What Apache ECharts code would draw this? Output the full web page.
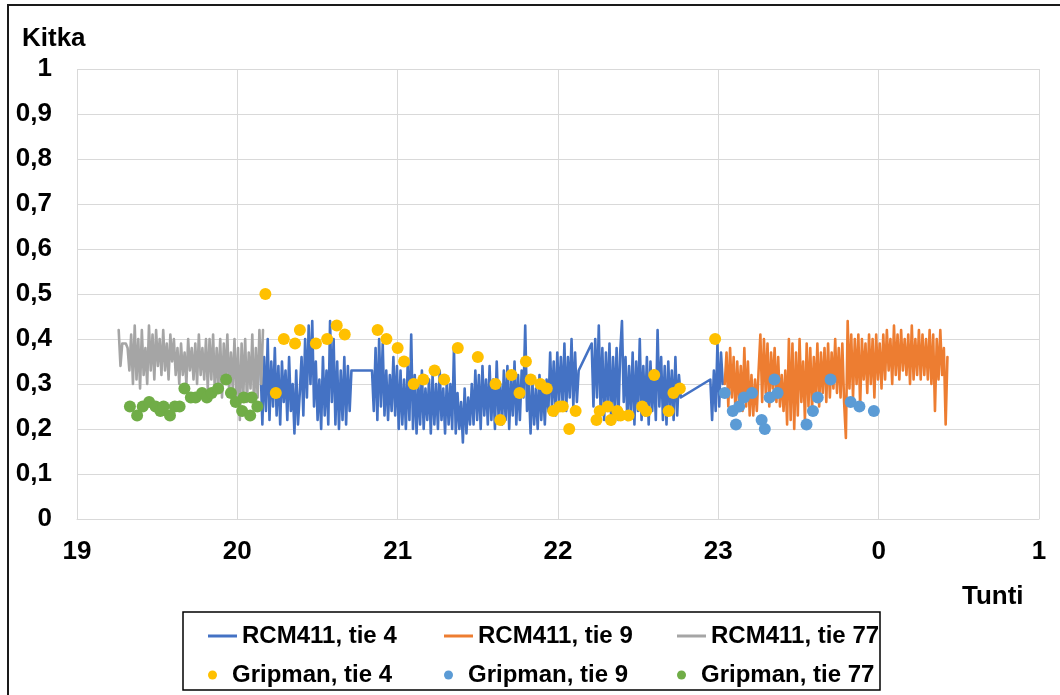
<!DOCTYPE html>
<html>
<head>
<meta charset="utf-8">
<script src="https://cdn.jsdelivr.net/npm/echarts@6/dist/echarts.min.js"></script>
<style>
  html, body { margin: 0; padding: 0; background: #fff; }
  #chart { width: 1060px; height: 695px; }
</style>
</head>
<body>
<div id="chart"></div>
<script>
// RCM411 loggers record one friction value every 40 s (times in hours of day, past midnight = 24+)
const LOG_STEP = 1 / 90;

// RCM411, tie 77
const tie77Start = 19.26;
const tie77Values = [
  0.42, 0.34, 0.39, 0.39, 0.39, 0.38,
  0.33, 0.41, 0.30, 0.43, 0.31, 0.40, 0.29, 0.42, 0.32, 0.38, 0.30, 0.43, 0.33,
  0.41, 0.31, 0.42, 0.34, 0.40, 0.32, 0.42, 0.33, 0.39, 0.31, 0.41, 0.35, 0.40, 0.32, 0.38,
  0.30, 0.39, 0.32, 0.37, 0.30, 0.40, 0.33, 0.38, 0.31, 0.39, 0.30, 0.41, 0.32, 0.38, 0.31, 0.40,
  0.29, 0.40, 0.31, 0.41, 0.28, 0.38, 0.30, 0.40, 0.27, 0.39, 0.31, 0.41, 0.28, 0.37, 0.29, 0.40, 0.27, 0.38,
  0.22, 0.39, 0.28, 0.40, 0.26, 0.37, 0.29, 0.41, 0.25, 0.38, 0.27, 0.42, 0.30, 0.42
];

// RCM411, tie 4 (four recording runs)
const tie4Run1Start = 20.145;
const tie4Run1 = [
  0.34, 0.21, 0.36, 0.24, 0.40, 0.22, 0.35, 0.25, 0.38, 0.23, 0.34, 0.21, 0.35, 0.26, 0.33, 0.22, 0.36, 0.24,
  0.30, 0.19, 0.33, 0.21, 0.28,
  0.36, 0.23, 0.40, 0.27, 0.43, 0.30, 0.44, 0.25,
  0.35, 0.22, 0.31, 0.20, 0.36, 0.23, 0.33, 0.21,
  0.44, 0.26, 0.40,
  0.21, 0.35, 0.20, 0.33, 0.22, 0.36, 0.21, 0.34, 0.24, 0.33
];
const tie4Run2Start = 20.84;
const tie4Run2 = [
  0.33, 0.24, 0.38, 0.22, 0.40, 0.25, 0.39, 0.23,
  0.33, 0.22, 0.32, 0.24, 0.36, 0.23,
  0.34, 0.20, 0.33, 0.21, 0.31, 0.20, 0.34, 0.22,
  0.41,
  0.20, 0.32, 0.19, 0.30, 0.21, 0.33, 0.20, 0.29, 0.22, 0.31, 0.19, 0.32, 0.21, 0.30, 0.20, 0.33, 0.22, 0.29, 0.19, 0.31, 0.21, 0.30, 0.20,
  0.38,
  0.19, 0.28, 0.20, 0.26, 0.17, 0.29, 0.19, 0.27, 0.21, 0.30,
  0.21, 0.33, 0.22, 0.32, 0.20, 0.34, 0.23, 0.31,
  0.21, 0.34, 0.22, 0.31, 0.20, 0.35, 0.23, 0.30, 0.21, 0.33, 0.22, 0.34, 0.20, 0.31, 0.23, 0.35, 0.21, 0.32, 0.22, 0.33,
  0.27, 0.43, 0.24,
  0.30, 0.19, 0.31, 0.21, 0.29, 0.20, 0.32, 0.22, 0.30, 0.21, 0.31,
  0.24, 0.37, 0.25, 0.35, 0.23, 0.37, 0.26, 0.36,
  0.25, 0.39, 0.24, 0.36, 0.27, 0.40, 0.25, 0.37, 0.26, 0.33
];
const tie4Run3Start = 22.21;
const tie4Run3 = [
  0.39, 0.25, 0.40, 0.27, 0.43, 0.24,
  0.38, 0.22, 0.37, 0.25, 0.39, 0.21, 0.36, 0.24, 0.38, 0.22, 0.37,
  0.44, 0.26,
  0.36, 0.22, 0.34, 0.23, 0.37, 0.21, 0.35, 0.24, 0.40, 0.22, 0.34, 0.23, 0.36, 0.21, 0.35, 0.24, 0.33, 0.22,
  0.42, 0.25,
  0.36, 0.22, 0.34, 0.21, 0.35, 0.24, 0.33, 0.22, 0.36, 0.23, 0.32, 0.27
];
const tie4Run4Start = 22.95;
const tie4Run4 = [0.31, 0.22, 0.33, 0.24, 0.39, 0.25, 0.37, 0.30];

// RCM411, tie 9
const tie9Start = 23.04;
const tie9Values = [
  0.30, 0.37, 0.25, 0.38, 0.27, 0.36, 0.24, 0.35, 0.26, 0.34,
  0.24, 0.38, 0.25, 0.35, 0.23,
  0.32, 0.23, 0.31, 0.24, 0.33,
  0.41, 0.26, 0.40,
  0.28, 0.39, 0.25, 0.37, 0.29, 0.38, 0.26, 0.36,
  0.25, 0.32, 0.24, 0.33,
  0.21, 0.40, 0.22, 0.39, 0.20,
  0.37, 0.23, 0.40, 0.26, 0.35, 0.22, 0.39, 0.25, 0.38, 0.24, 0.36,
  0.27, 0.39, 0.25, 0.37, 0.28, 0.38, 0.26, 0.39, 0.27, 0.37, 0.29, 0.40, 0.28,
  0.38, 0.27, 0.39, 0.26, 0.18,
  0.44,
  0.29, 0.41, 0.27, 0.40, 0.30, 0.41, 0.25, 0.40, 0.31, 0.39, 0.28, 0.41, 0.30, 0.40, 0.27, 0.41, 0.31, 0.39, 0.29,
  0.41, 0.31, 0.42, 0.33, 0.40, 0.30, 0.43, 0.32, 0.41, 0.31, 0.42, 0.33, 0.40, 0.32, 0.41, 0.30, 0.43, 0.31, 0.40, 0.32,
  0.42, 0.31, 0.41, 0.32, 0.40, 0.31, 0.42, 0.30, 0.41, 0.24, 0.40, 0.31, 0.42, 0.32, 0.38, 0.21, 0.36
];

// Gripman spot measurements: [hour, friction]
const gripTie4 = [
  [20.175, 0.50], [20.24, 0.28], [20.29, 0.40], [20.36, 0.39], [20.39, 0.42], [20.49, 0.39],
  [20.56, 0.40], [20.62, 0.43], [20.67, 0.41], [20.875, 0.42], [20.93, 0.40], [21.0, 0.38],
  [21.04, 0.35], [21.1, 0.30], [21.16, 0.31], [21.23, 0.33], [21.29, 0.31], [21.375, 0.38],
  [21.5, 0.36], [21.61, 0.30], [21.64, 0.22], [21.71, 0.32], [21.76, 0.28], [21.8, 0.35],
  [21.83, 0.31], [21.89, 0.30], [21.93, 0.29], [21.97, 0.24], [22.01, 0.25], [22.03, 0.25],
  [22.07, 0.20], [22.11, 0.24], [22.24, 0.22], [22.26, 0.24], [22.31, 0.25], [22.33, 0.22],
  [22.37, 0.24], [22.39, 0.23], [22.44, 0.23], [22.525, 0.25], [22.55, 0.24], [22.6, 0.32],
  [22.69, 0.24], [22.72, 0.28], [22.76, 0.29], [22.98, 0.40]
];
const gripTie9 = [
  [23.04, 0.28], [23.09, 0.24], [23.11, 0.21], [23.13, 0.25], [23.16, 0.27], [23.21, 0.28],
  [23.27, 0.22], [23.29, 0.20], [23.32, 0.27], [23.35, 0.31], [23.37, 0.28], [23.55, 0.21],
  [23.59, 0.24], [23.62, 0.27], [23.7, 0.31], [23.825, 0.26], [23.88, 0.25], [23.97, 0.24]
];
const gripTie77 = [
  [19.33, 0.25], [19.375, 0.23], [19.41, 0.25], [19.45, 0.26], [19.49, 0.25], [19.52, 0.24],
  [19.54, 0.25], [19.58, 0.23], [19.61, 0.25], [19.64, 0.25], [19.67, 0.29], [19.71, 0.27],
  [19.74, 0.27], [19.78, 0.28], [19.81, 0.27], [19.84, 0.28], [19.88, 0.29], [19.93, 0.31],
  [19.96, 0.28], [19.99, 0.26], [20.03, 0.24], [20.04, 0.27], [20.08, 0.23], [20.09, 0.27],
  [20.125, 0.25]
];

// Axis ticks
const xTicks = [19, 20, 21, 22, 23, 24, 25];
const yTicks = [0, 0.1, 0.2, 0.3, 0.4, 0.5, 0.6, 0.7, 0.8, 0.9, 1];

const FONT = '"Liberation Sans", Arial, sans-serif';

function toPairs(start, values) {
  return values.map((v, i) => [start + i * LOG_STEP, v]);
}

const tie4Line = []
  .concat(toPairs(tie4Run1Start, tie4Run1))
  .concat(toPairs(tie4Run2Start, tie4Run2))
  .concat(toPairs(tie4Run3Start, tie4Run3))
  .concat(toPairs(tie4Run4Start, tie4Run4));
const tie9Line = toPairs(tie9Start, tie9Values);
const tie77Line = toPairs(tie77Start, tie77Values);

function lineSeries(name, color, data) {
  return {
    name, type: 'line', data, color, z: 2,
    showSymbol: false, symbol: 'none',
    lineStyle: { width: 2.6, color, join: 'round', cap: 'round' },
    emphasis: { disabled: true },
    animation: false
  };
}
function dotSeries(name, color, data) {
  return {
    name, type: 'scatter', data, color, z: 4,
    symbol: 'circle', symbolSize: 12,
    itemStyle: { color, opacity: 1 },
    emphasis: { disabled: true },
    animation: false
  };
}
function legendItem(name, left, top, isLine) {
  return {
    data: [name], left, top,
    icon: isLine ? 'rect' : 'circle',
    itemWidth: 29, itemHeight: isLine ? 3 : 9,
    itemGap: 0, selectedMode: false,
    textStyle: { fontFamily: FONT, fontWeight: 'bold', fontSize: 24, color: '#000', padding: [0, 0, 0, 0] }
  };
}

const chart = echarts.init(document.getElementById('chart'), null, { renderer: 'canvas' });

chart.setOption({
  backgroundColor: '#fff',
  animation: false,
  grid: { left: 77, right: 21, top: 69, bottom: 176, containLabel: false },
  xAxis: {
    type: 'value', min: xTicks[0], max: xTicks[xTicks.length - 1], interval: 1,
    axisLine: { show: true, lineStyle: { color: '#d9d9d9', width: 1 } },
    axisTick: { show: false },
    splitLine: { show: true, lineStyle: { color: '#d9d9d9', width: 1 } },
    axisLabel: {
      margin: 20, color: '#000', fontFamily: FONT, fontWeight: 'bold', fontSize: 26,
      formatter: v => String(v % 24)
    }
  },
  yAxis: {
    type: 'value', min: yTicks[0], max: yTicks[yTicks.length - 1], interval: 0.1,
    axisLine: { show: false },
    axisTick: { show: false },
    splitLine: { show: true, lineStyle: { color: '#d9d9d9', width: 1 } },
    axisLabel: {
      margin: 25, color: '#000', fontFamily: FONT, fontWeight: 'bold', fontSize: 26,
      formatter: v => String(Math.round(v * 10) / 10).replace('.', ',')
    }
  },
  legend: [
    legendItem('RCM411, tie 4', 203, 619, true),
    legendItem('RCM411, tie 9', 439, 619, true),
    legendItem('RCM411, tie 77', 672, 619, true),
    legendItem('Gripman, tie 4', 203, 658, false),
    legendItem('Gripman, tie 9', 439, 658, false),
    legendItem('Gripman, tie 77', 672, 658, false)
  ],
  graphic: [
    { type: 'rect', shape: { x: 8, y: 5, width: 1070, height: 710 }, style: { fill: 'none', stroke: '#1a1a1a', lineWidth: 2 }, silent: true },
    { type: 'rect', shape: { x: 183, y: 612, width: 697, height: 78 }, style: { fill: 'none', stroke: '#000', lineWidth: 1.5 }, silent: true },
    { type: 'text', left: 22, top: 26, style: { text: 'Kitka', fontFamily: FONT, fontWeight: 'bold', fontSize: 26, fill: '#000' }, silent: true },
    { type: 'text', left: 962, top: 584, style: { text: 'Tunti', fontFamily: FONT, fontWeight: 'bold', fontSize: 26, fill: '#000' }, silent: true }
  ],
  series: [
    lineSeries('RCM411, tie 4', '#4472C4', tie4Line),
    lineSeries('RCM411, tie 9', '#ED7D31', tie9Line),
    lineSeries('RCM411, tie 77', '#A5A5A5', tie77Line),
    dotSeries('Gripman, tie 4', '#FFC000', gripTie4),
    dotSeries('Gripman, tie 9', '#5B9BD5', gripTie9),
    dotSeries('Gripman, tie 77', '#70AD47', gripTie77)
  ]
});
</script>
</body>
</html>
